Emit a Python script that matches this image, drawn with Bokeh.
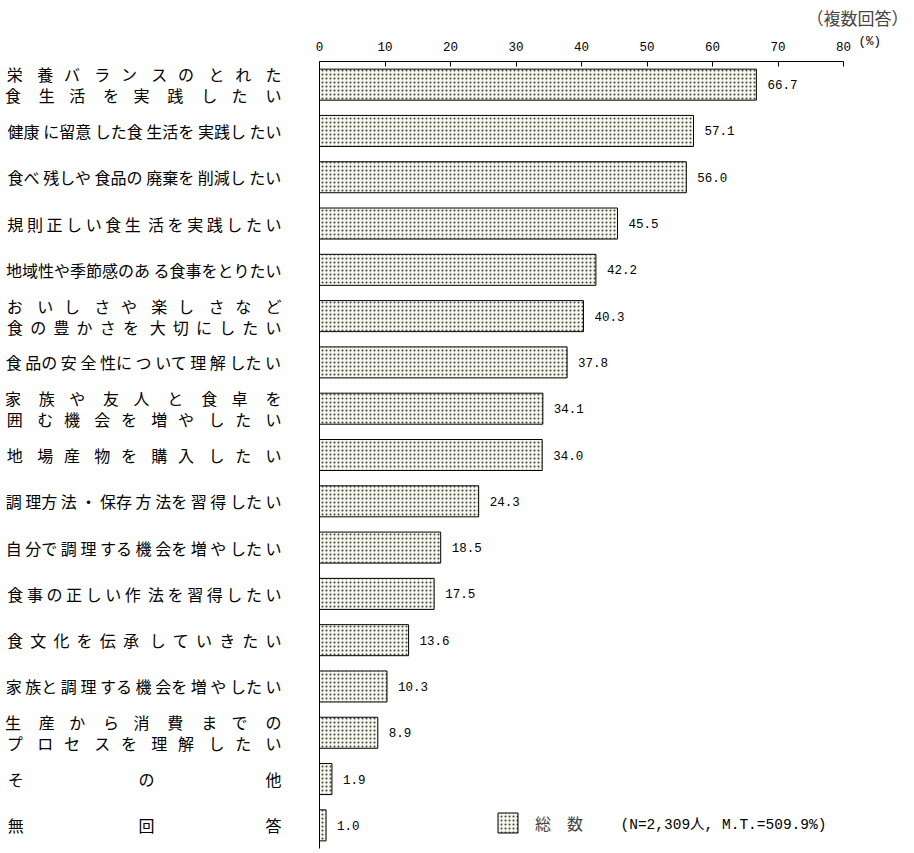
from bokeh.plotting import figure
from bokeh.models import FactorRange, Range1d, FixedTicker, LinearAxis, Legend, LegendItem
from bokeh.core.properties import value
from bokeh.embed import file_html
from bokeh.resources import INLINE

# 食生活で実践したいこと (複数回答), N=2,309
labels = [
    "栄養バランスのとれた\n食生活を実践したい",
    "健康に留意した食生活を実践したい",
    "食べ残しや食品の廃棄を削減したい",
    "規則正しい食生活を実践したい",
    "地域性や季節感のある食事をとりたい",
    "おいしさや楽しさなど\n食の豊かさを大切にしたい",
    "食品の安全性について理解したい",
    "家族や友人と食卓を\n囲む機会を増やしたい",
    "地場産物を購入したい",
    "調理方法・保存方法を習得したい",
    "自分で調理する機会を増やしたい",
    "食事の正しい作法を習得したい",
    "食文化を伝承していきたい",
    "家族と調理する機会を増やしたい",
    "生産から消費までの\nプロセスを理解したい",
    "その他",
    "無回答",
]
values = [66.7, 57.1, 56.0, 45.5, 42.2, 40.3, 37.8, 34.1, 34.0,
          24.3, 18.5, 17.5, 13.6, 10.3, 8.9, 1.9, 1.0]
ticks = [0, 10, 20, 30, 40, 50, 60, 70, 80]
legend_label = "総　数"
note = "(N=2,309人, M.T.=509.9%)"

JP = "Noto Sans CJK JP"
MONO = "'Liberation Mono', 'Noto Sans CJK JP'"
FS = 16          # label font size, px
SP = 0.224 * FS  # width of a no-break space in Noto Sans CJK
WIDTH = 275      # labels are spread to the same width (distributed alignment)
PX_PER_PCT = 6.55
W, H = 910, 850
LEFT = 319


def justify(line):
    n = len(line)
    if n < 2:
        return line
    total = max(0, round((WIDTH - n * FS) / SP))
    gaps = n - 1
    out = line[0]
    done = 0
    for i in range(1, n):
        want = round(total * i / gaps)
        out += "\u00a0" * (want - done) + line[i]
        done = want
    return out


shown = ["\n".join(justify(s) for s in lab.split("\n")) for lab in labels]

# frame runs to the right edge so the "(%)" unit can sit past the 80 tick
x_end = (W - LEFT) / PX_PER_PCT
p = figure(width=W, height=H, output_backend="svg", toolbar_location=None,
           tools="", y_range=FactorRange(*reversed(shown)),
           x_range=Range1d(0, x_end), x_axis_location="above",
           min_border_left=LEFT, min_border_right=0,
           min_border_top=60, min_border_bottom=2)

bars = p.hbar(y=shown, right=values, height=0.67, left=0,
              fill_color="#f5f7ea", line_color="black", line_width=1,
              hatch_pattern="dot", hatch_color="#404040", hatch_scale=4,
              hatch_weight=1)

p.text(x=values, y=shown, text=[f"{v:.1f}" for v in values], x_offset=11,
       text_font=value(MONO), text_font_size="12.5px", text_baseline="middle",
       text_color="black")

p.text(x=[45.95], y=[shown[-1]], text=[note], text_font=value(MONO),
       text_font_size="14.5px", text_baseline="middle", text_color="black")

legend = Legend(items=[LegendItem(label=legend_label, renderers=[bars])],
                location=(176, 13), glyph_width=25, glyph_height=25,
                label_standoff=15, padding=0, spacing=0, margin=0,
                border_line_color=None, background_fill_alpha=0,
                label_text_font=JP, label_text_font_size="16px")
p.add_layout(legend)

xa = p.xaxis[0]
xa.ticker = FixedTicker(ticks=ticks)
xa.bounds = (0, 80)
xa.axis_line_color = "black"
xa.major_tick_in = 5
xa.major_tick_out = 0
xa.major_tick_line_color = "black"
xa.minor_tick_line_color = None
xa.major_label_standoff = 11
xa.major_label_text_font = MONO
xa.major_label_text_font_size = "12.5px"
xa.major_label_text_color = "black"

# unit "(%)" to the right of the scale
unit = LinearAxis(ticker=FixedTicker(ticks=[84]), major_label_overrides={84: "(%)"},
                  axis_line_color=None, major_tick_line_color=None,
                  minor_tick_line_color=None, major_label_standoff=-16,
                  major_label_text_font=MONO, major_label_text_font_size="12.5px",
                  major_label_text_color="black")
p.add_layout(unit, "above")

p.title.text = "（複数回答）"
p.title.align = "right"
p.title.offset = 2
p.title.text_font = JP
p.title.text_font_size = "17px"
p.title.text_font_style = "normal"
p.title.standoff = 4

ya = p.yaxis[0]
ya.axis_line_color = "black"
ya.major_tick_line_color = None
ya.major_tick_in = 0
ya.major_tick_out = 0
ya.major_label_standoff = 38
ya.major_label_text_font = JP
ya.major_label_text_font_size = f"{FS}px"
ya.major_label_text_color = "black"
ya.major_label_text_line_height = 0.87

p.xgrid.grid_line_color = None
p.ygrid.grid_line_color = None
p.outline_line_color = None
p.y_range.range_padding = 0

open("out.html", "w").write(file_html(p, INLINE))
